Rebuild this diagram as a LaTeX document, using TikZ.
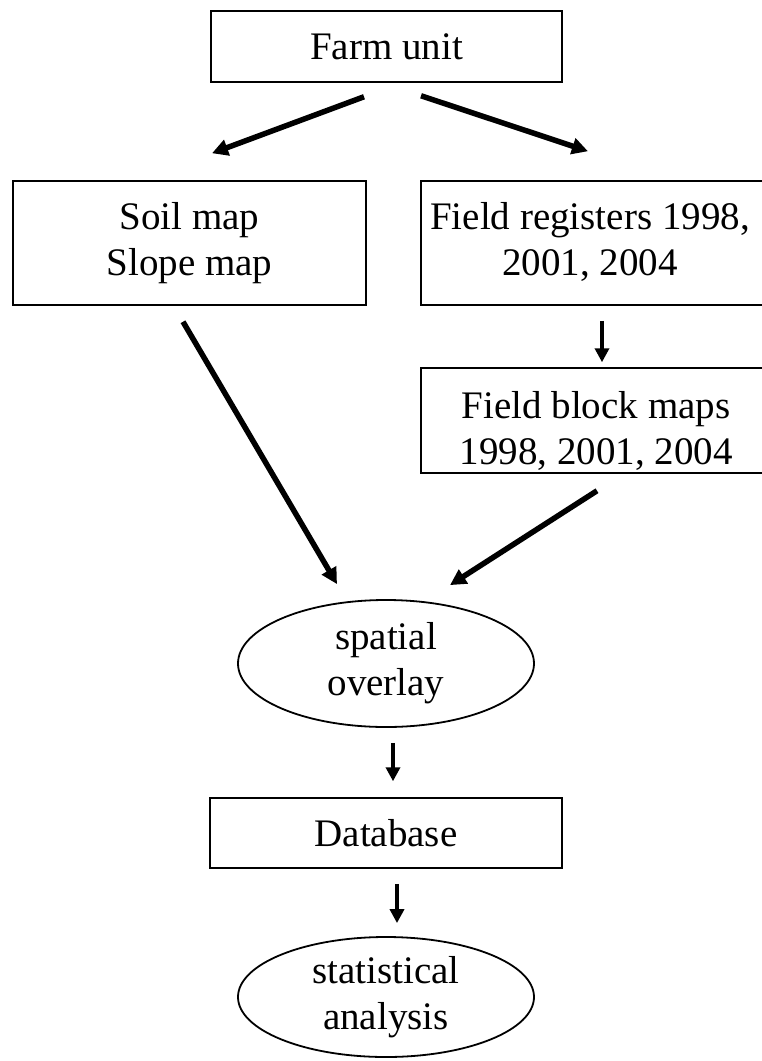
\documentclass[tikz,border=0pt]{standalone}
\usepackage{fontspec}
\setmainfont{Liberation Serif}
\usetikzlibrary{shapes.geometric,arrows.meta,calc}
\begin{document}
\begin{tikzpicture}[x=1pt,y=-1pt,
  every node/.style={font=\fontsize{39}{46}\selectfont, align=center, inner sep=0pt},
  box/.style={draw, rectangle, line width=1.5pt},
  oval/.style={draw, ellipse, line width=1.8pt},
  flow/.style={line width=5.5pt, -{Triangle[length=16pt,width=16pt]}},
  flowv/.style={line width=4.5pt, -{Triangle[length=14pt,width=14pt]}}]
\useasboundingbox (0,0) rectangle (762,1061);
\clip (0,0) rectangle (762,1061);
% boxes and ovals
\node[box, minimum width=351pt, minimum height=71pt] (farm) at (386.5,46.5) {Farm unit};
\node[box, minimum width=353pt, minimum height=124pt] (soil) at (189.5,243) {Soil map\\Slope map};
\node[box, minimum width=342pt, minimum height=124pt] (reg) at (592,243) {};
\node (regtxt) at (590,242) {Field registers 1998,\\2001, 2004};
\node[box, minimum width=342pt, minimum height=105pt] (block) at (592,420.5) {};
\node (blocktxt) at (596,431) {Field block maps\\1998, 2001, 2004};
\node[oval, minimum width=296pt, minimum height=127pt] (overlay) at (386,663.5) {spatial\\overlay};
\node[box, minimum width=352pt, minimum height=70pt] (db) at (386,833) {Database};
\node[oval, minimum width=296pt, minimum height=120pt] (stat) at (386,997) {statistical\\analysis};
% connectors
\draw[flow] ($(farm.south)+(-22.5,14)$) -- ($(soil.north)+(22.5,-27)$);
\draw[flow] ($(farm.south)+(34.5,13)$) -- ($(reg.north)+(-4,-29)$);
\draw[flow] ($(soil.south)+(-6.5,16)$) -- ($(overlay.north)+(-49,-15)$);
\draw[flowv] ($(reg.south)+(10,15)$) -- ($(block.north)+(10,-5)$);
\draw[flow] ($(block.south)+(5,17)$) -- ($(overlay.north)+(64,-14)$);
\draw[flowv] ($(overlay.south)+(7,15)$) -- ($(db.north)+(7,-16)$);
\draw[flowv] ($(db.south)+(11,15)$) -- ($(stat.north)+(11,-13)$);
\end{tikzpicture}
\end{document}
